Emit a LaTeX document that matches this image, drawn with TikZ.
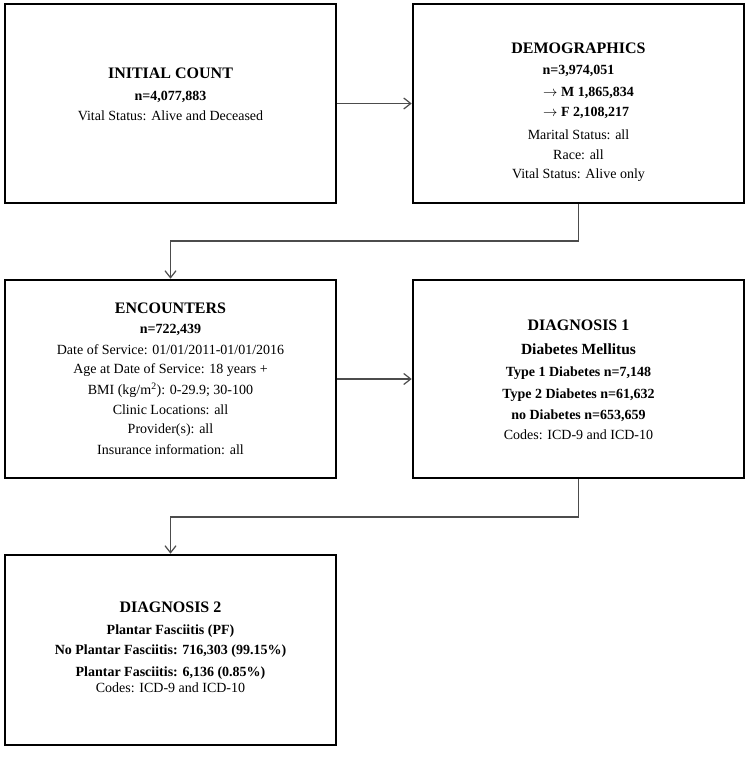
\documentclass[tikz,border=0pt]{standalone}
\usepackage{fontspec}
\setmainfont{Liberation Serif}
\usetikzlibrary{arrows.meta}
\begin{document}
\begin{tikzpicture}[x=1pt,y=-1pt,
  box/.style={draw=black,line width=2.6pt,rectangle,minimum width=331pt,inner sep=0pt},
  conn/.style={draw=black!70,line width=1.3pt,-{Straight Barb[length=7pt,width=11pt,line width=1.2pt]}},
  ttl/.style={font=\fontsize{16}{18}\selectfont\bfseries,inner sep=0pt,anchor=center},
  bl/.style={font=\fontsize{14}{16}\selectfont\bfseries,inner sep=0pt,anchor=center},
  nl/.style={font=\fontsize{14}{16}\selectfont,inner sep=0pt,anchor=center}]
\useasboundingbox[fill=white] (0,0) rectangle (750,758);
% boxes
\node[box,minimum height=199pt] (b1) at (170.5,103.5) {};
\node[box,minimum height=199pt] (b2) at (578.5,103.5) {};
\node[box,minimum height=198pt] (b3) at (170.5,379) {};
\node[box,minimum height=198pt] (b4) at (578.5,379) {};
\node[box,minimum height=190pt] (b5) at (170.5,650) {};
% box 1
\node[ttl] (t1a) at (170.5,73) {INITIAL COUNT};
\node[bl] (t1b) at (170.5,97) {n=4,077,883};
\node[nl] (t1c) at (170.5,116) {Vital Status: Alive and Deceased};
% box 2
\node[ttl] (t2a) at (578.5,48) {DEMOGRAPHICS};
\node[bl] (t2b) at (578.5,71) {n=3,974,051};
\node[bl,anchor=west] (t2c) at (543,93) {$\rightarrow$ M 1,865,834};
\node[bl,anchor=west] (t2d) at (543,113) {$\rightarrow$ F 2,108,217};
\node[nl] (t2e) at (578.5,135) {Marital Status: all};
\node[nl] (t2f) at (578.5,155) {Race: all};
\node[nl] (t2g) at (578.5,175) {Vital Status: Alive only};
% box 3
\node[ttl] (t3a) at (170.5,308) {ENCOUNTERS};
\node[bl] (t3b) at (170.5,330) {n=722,439};
\node[nl] (t3c) at (170.5,350) {Date of Service: 01/01/2011-01/01/2016};
\node[nl] (t3d) at (170.5,370) {Age at Date of Service: 18 years +};
\node[nl] (t3e) at (170.5,390) {BMI (kg/m\textsuperscript{2}): 0-29.9; 30-100};
\node[nl] (t3f) at (170.5,410) {Clinic Locations: all};
\node[nl] (t3g) at (170.5,430) {Provider(s): all};
\node[nl] (t3h) at (170.5,450) {Insurance information: all};
% box 4
\node[ttl] (t4a) at (578.5,325) {DIAGNOSIS 1};
\node[font=\fontsize{15.5}{18}\selectfont\bfseries,inner sep=0pt] (t4b) at (578.5,349) {Diabetes Mellitus};
\node[bl] (t4c) at (578.5,373) {Type 1 Diabetes n=7,148};
\node[bl] (t4d) at (578.5,395) {Type 2 Diabetes n=61,632};
\node[bl] (t4e) at (578.5,416) {no Diabetes n=653,659};
\node[nl] (t4f) at (578.5,435) {Codes: ICD-9 and ICD-10};
% box 5
\node[ttl] (t5a) at (170.5,607) {DIAGNOSIS 2};
\node[bl] (t5b) at (170.5,631) {Plantar Fasciitis (PF)};
\node[bl] (t5c) at (170.5,651) {No Plantar Fasciitis: 716,303 (99.15\%)};
\node[bl] (t5d) at (170.5,673) {Plantar Fasciitis: 6,136 (0.85\%)};
\node[nl] (t5e) at (170.5,688) {Codes: ICD-9 and ICD-10};
% connectors
\coordinate (k1) at (0,241);
\coordinate (k2) at (0,517);
\draw[conn] (b1.east) -- (b2.west);
\draw[conn] (b2.south) -- (b2.south |- k1) -| (b3.north);
\draw[conn] (b3.east) -- (b4.west);
\draw[conn] (b4.south) -- (b4.south |- k2) -| (b5.north);
\end{tikzpicture}
\end{document}
